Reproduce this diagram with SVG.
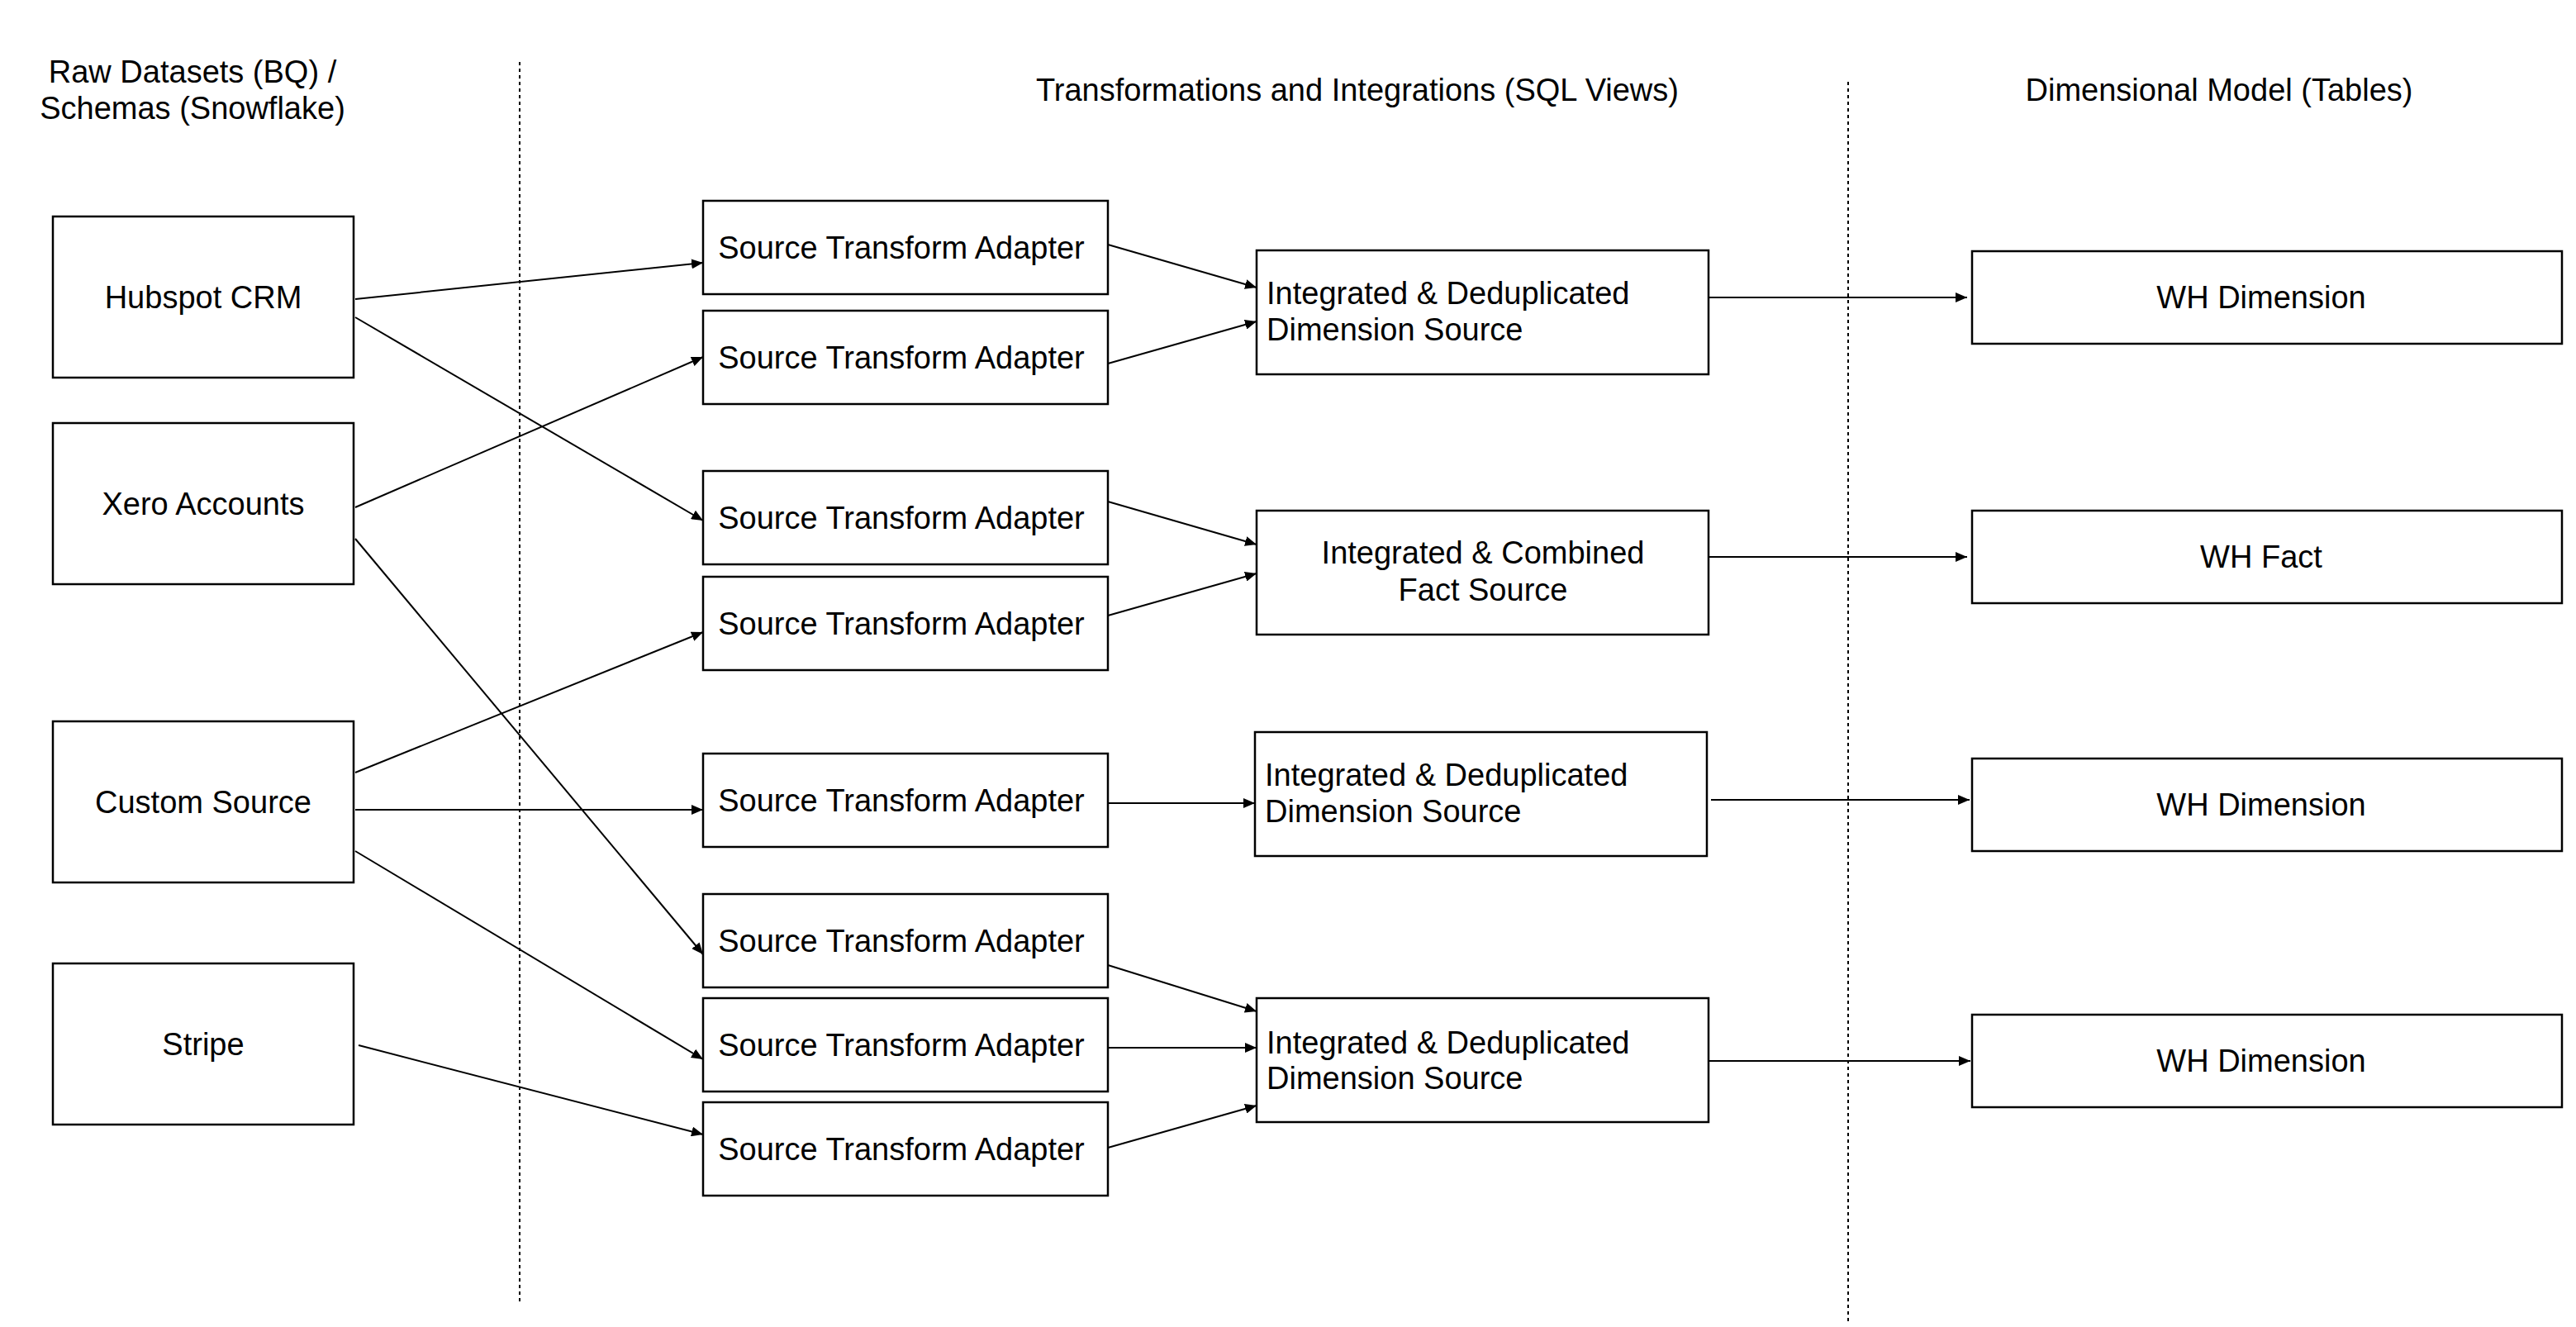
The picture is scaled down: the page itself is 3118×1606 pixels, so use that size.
<svg xmlns="http://www.w3.org/2000/svg" width="3118" height="1606" viewBox="0 0 3118 1606">
<style>
.box{fill:#ffffff;stroke:#000000;stroke-width:2.5}
.t{font-family:"Liberation Sans",Arial,Helvetica,sans-serif;font-size:38px;fill:#000000}
.c{text-anchor:middle}
.conn{stroke:#000000;stroke-width:2;fill:none;marker-end:url(#arr)}
.div{stroke:#000000;stroke-width:2;stroke-dasharray:4 4;fill:none}
</style>
<defs>
<marker id="arr" viewBox="0 0 14 12" refX="14" refY="6" markerWidth="14" markerHeight="12" markerUnits="userSpaceOnUse" orient="auto">
<path d="M0,0 L14,6 L0,12 z" fill="#000000"/>
</marker>
</defs>
<rect width="3118" height="1606" fill="#ffffff"/>
<g id="dividers">
<line class="div" x1="629" y1="75" x2="629" y2="1576"/>
<line class="div" x1="2237" y1="99" x2="2237" y2="1600"/>
</g>
<g id="headers">
<text class="t c" x="233" y="100">Raw Datasets (BQ) /</text>
<text class="t c" x="233" y="144">Schemas (Snowflake)</text>
<text class="t c" x="1643" y="122">Transformations and Integrations (SQL Views)</text>
<text class="t c" x="2686" y="122">Dimensional Model (Tables)</text>
</g>
<g id="connectors">
<line class="conn" x1="430" y1="362" x2="851" y2="318"/>
<line class="conn" x1="430" y1="384" x2="851" y2="630"/>
<line class="conn" x1="430" y1="614" x2="851" y2="432"/>
<line class="conn" x1="430" y1="652" x2="851" y2="1155"/>
<line class="conn" x1="430" y1="935" x2="851" y2="765"/>
<line class="conn" x1="430" y1="980" x2="851" y2="980"/>
<line class="conn" x1="430" y1="1030" x2="851" y2="1282"/>
<line class="conn" x1="434" y1="1265" x2="851" y2="1373"/>
<line class="conn" x1="1341" y1="296" x2="1521" y2="348"/>
<line class="conn" x1="1341" y1="440" x2="1521" y2="389"/>
<line class="conn" x1="1341" y1="607" x2="1521" y2="659"/>
<line class="conn" x1="1341" y1="745" x2="1521" y2="694"/>
<line class="conn" x1="1341" y1="972" x2="1519" y2="972"/>
<line class="conn" x1="1341" y1="1168" x2="1521" y2="1224"/>
<line class="conn" x1="1341" y1="1268" x2="1521" y2="1268"/>
<line class="conn" x1="1341" y1="1389" x2="1521" y2="1338"/>
<line class="conn" x1="2068" y1="360" x2="2381" y2="360"/>
<line class="conn" x1="2068" y1="674" x2="2381" y2="674"/>
<line class="conn" x1="2071" y1="968" x2="2384" y2="968"/>
<line class="conn" x1="2068" y1="1284" x2="2385" y2="1284"/>
</g>
<g id="hubspot"><rect class="box" x="64" y="262" width="364" height="195"/><text class="t c" x="246" y="373">Hubspot CRM</text></g>
<g id="xero"><rect class="box" x="64" y="512" width="364" height="195"/><text class="t c" x="246" y="623">Xero Accounts</text></g>
<g id="custom"><rect class="box" x="64" y="873" width="364" height="195"/><text class="t c" x="246" y="984">Custom Source</text></g>
<g id="stripe"><rect class="box" x="64" y="1166" width="364" height="195"/><text class="t c" x="246" y="1277">Stripe</text></g>
<g id="sta1"><rect class="box" x="851" y="243" width="490" height="113"/><text class="t c" x="1091" y="313">Source Transform Adapter</text></g>
<g id="sta2"><rect class="box" x="851" y="376" width="490" height="113"/><text class="t c" x="1091" y="446">Source Transform Adapter</text></g>
<g id="sta3"><rect class="box" x="851" y="570" width="490" height="113"/><text class="t c" x="1091" y="640">Source Transform Adapter</text></g>
<g id="sta4"><rect class="box" x="851" y="698" width="490" height="113"/><text class="t c" x="1091" y="768">Source Transform Adapter</text></g>
<g id="sta5"><rect class="box" x="851" y="912" width="490" height="113"/><text class="t c" x="1091" y="982">Source Transform Adapter</text></g>
<g id="sta6"><rect class="box" x="851" y="1082" width="490" height="113"/><text class="t c" x="1091" y="1152">Source Transform Adapter</text></g>
<g id="sta7"><rect class="box" x="851" y="1208" width="490" height="113"/><text class="t c" x="1091" y="1278">Source Transform Adapter</text></g>
<g id="sta8"><rect class="box" x="851" y="1334" width="490" height="113"/><text class="t c" x="1091" y="1404">Source Transform Adapter</text></g>
<g id="idim1"><rect class="box" x="1521" y="303" width="547" height="150"/><text class="t" x="1533" y="368">Integrated &amp; Deduplicated</text><text class="t" x="1533" y="412">Dimension Source</text></g>
<g id="ifact"><rect class="box" x="1521" y="618" width="547" height="150"/><text class="t c" x="1795" y="682">Integrated &amp; Combined</text><text class="t c" x="1795" y="727">Fact Source</text></g>
<g id="idim2"><rect class="box" x="1519" y="886" width="547" height="150"/><text class="t" x="1531" y="951">Integrated &amp; Deduplicated</text><text class="t" x="1531" y="995">Dimension Source</text></g>
<g id="idim3"><rect class="box" x="1521" y="1208" width="547" height="150"/><text class="t" x="1533" y="1275">Integrated &amp; Deduplicated</text><text class="t" x="1533" y="1318">Dimension Source</text></g>
<g id="wh1"><rect class="box" x="2387" y="304" width="714" height="112"/><text class="t c" x="2737" y="373">WH Dimension</text></g>
<g id="whfact"><rect class="box" x="2387" y="618" width="714" height="112"/><text class="t c" x="2737" y="687">WH Fact</text></g>
<g id="wh2"><rect class="box" x="2387" y="918" width="714" height="112"/><text class="t c" x="2737" y="987">WH Dimension</text></g>
<g id="wh3"><rect class="box" x="2387" y="1228" width="714" height="112"/><text class="t c" x="2737" y="1297">WH Dimension</text></g>
</svg>
